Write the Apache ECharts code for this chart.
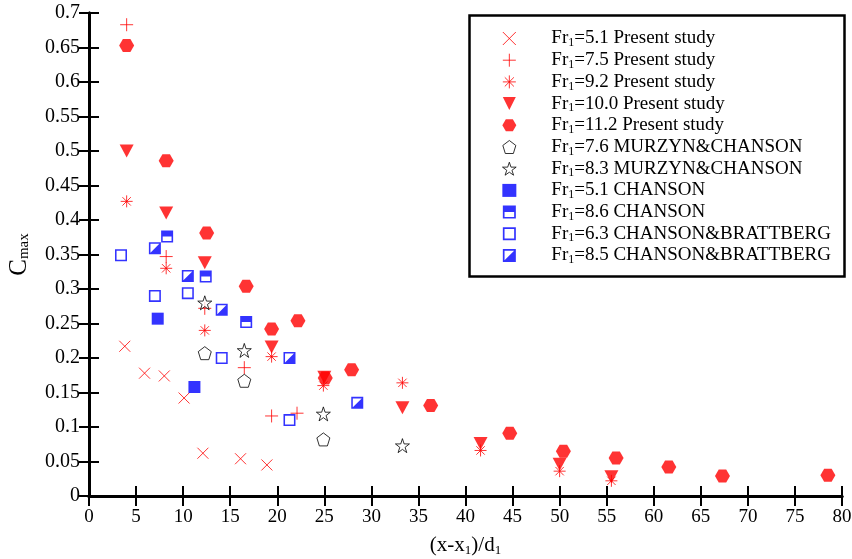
<!DOCTYPE html>
<html>
<head>
<meta charset="utf-8">
<script src="https://cdn.jsdelivr.net/npm/echarts@6/dist/echarts.min.js"></script>
<style>
  html, body { margin: 0; padding: 0; background: #fff; }
  #chart { width: 852px; height: 559px; }
</style>
</head>
<body>
<div id="chart"></div>
<script>
// axis ticks
const xMin = 0, xMax = 80, xStep = 5;
const yMin = 0, yMax = 0.7, yStep = 0.05;

// Present study
const p51X = [3.8, 5.9, 8.0, 10.1, 12.1, 16.1, 18.9];
const p51Y = [0.217, 0.178, 0.174, 0.142, 0.062, 0.054, 0.045];
const p75X = [4.0, 8.2, 12.3, 16.5, 19.4, 22.1];
const p75Y = [0.683, 0.347, 0.272, 0.186, 0.116, 0.12];
const p92X = [4.0, 8.2, 12.3, 19.4, 24.9, 33.3, 41.6, 50.0, 55.5];
const p92Y = [0.427, 0.33, 0.24, 0.202, 0.16, 0.164, 0.066, 0.036, 0.022];
const p100X = [4.0, 8.2, 12.3, 19.4, 25.0, 33.3, 41.6, 50.0, 55.5];
const p100Y = [0.5, 0.41, 0.338, 0.216, 0.172, 0.128, 0.076, 0.046, 0.028];
const p112X = [4.0, 8.2, 12.5, 16.7, 19.4, 22.2, 25.1, 27.9, 36.3, 44.7, 50.4, 56.0, 61.6, 67.3, 78.5];
const p112Y = [0.653, 0.486, 0.381, 0.304, 0.242, 0.254, 0.171, 0.183, 0.131, 0.091, 0.065, 0.055, 0.042, 0.029, 0.030];
// MURZYN & CHANSON
const m76X = [12.3, 16.5, 24.9];
const m76Y = [0.207, 0.167, 0.082];
const m83X = [12.3, 16.5, 24.9, 33.3];
const m83Y = [0.28, 0.211, 0.119, 0.073];
// CHANSON
const c51X = [7.3, 11.2];
const c51Y = [0.257, 0.158];
const c86X = [8.3, 12.4, 16.7];
const c86Y = [0.376, 0.318, 0.252];
// CHANSON & BRATTBERG
const b63X = [3.4, 7.0, 10.5, 14.1, 21.3];
const b63Y = [0.349, 0.29, 0.294, 0.2, 0.11];
const b85X = [7.0, 10.5, 14.1, 21.3, 28.5];
const b85Y = [0.359, 0.319, 0.27, 0.2, 0.135];

const names = [
  'Fr1=5.1 Present study', 'Fr1=7.5 Present study', 'Fr1=9.2 Present study',
  'Fr1=10.0 Present study', 'Fr1=11.2 Present study',
  'Fr1=7.6 MURZYN&CHANSON', 'Fr1=8.3 MURZYN&CHANSON',
  'Fr1=5.1 CHANSON', 'Fr1=8.6 CHANSON',
  'Fr1=6.3 CHANSON&BRATTBERG', 'Fr1=8.5 CHANSON&BRATTBERG'
];

const RED = '#ff0000', BLUE = '#0000ff', BLACK = '#000';
const ring = 'M0,0L10,0L10,10L0,10Z M1.3,1.3L1.3,8.7L8.7,8.7L8.7,1.3Z';
const sym = {
  cross: 'path://M0,0L10,10M10,0L0,10',
  plus: 'path://M5,0L5,10M0,5L10,5',
  star6: 'path://M5,0L5,10M0,5L10,5M1.5,1.5L8.5,8.5M8.5,1.5L1.5,8.5',
  tri: 'path://M0,0L10,0L5,10Z',
  hex: 'path://M0,5L2.5,0.67L7.5,0.67L10,5L7.5,9.33L2.5,9.33Z',
  penta: 'path://M5,0L10,3.8L8.1,10L1.9,10L0,3.8Z',
  star: 'path://M5,0L6.2,3.6L10,3.6L6.9,5.9L8.1,9.5L5,7.3L1.9,9.5L3.1,5.9L0,3.6L3.8,3.6Z',
  open: 'path://' + ring,
  halfTop: 'path://' + ring + ' M1.3,1.3L8.7,1.3L8.7,5L1.3,5Z',
  halfDiag: 'path://' + ring + ' M8.7,1.3L8.7,8.7L1.3,8.7Z'
};

function pts(xs, ys) { return xs.map((x, i) => [x, ys[i]]); }

function ser(i, xs, ys, symbol, size, itemStyle) {
  return {
    name: names[i], type: 'scatter', data: pts(xs, ys),
    symbol: symbol, symbolSize: size, itemStyle: itemStyle
  };
}

const lineStyle = c => ({ color: c, borderColor: c, borderWidth: 1 });
const fillStyle = c => ({ color: c, borderWidth: 0 });
const hollow = c => ({ color: '#fff', borderColor: c, borderWidth: 1 });

const series = [
  ser(0, p51X, p51Y, sym.cross, 11, lineStyle(RED)),
  ser(1, p75X, p75Y, sym.plus, 13, lineStyle(RED)),
  ser(2, p92X, p92Y, sym.star6, 12, lineStyle(RED)),
  ser(3, p100X, p100Y, sym.tri, [14, 13], fillStyle(RED)),
  ser(4, p112X, p112Y, sym.hex, [15, 13], fillStyle(RED)),
  ser(5, m76X, m76Y, sym.penta, 13, hollow(BLACK)),
  ser(6, m83X, m83Y, sym.star, 14, hollow(BLACK)),
  ser(7, c51X, c51Y, 'rect', 12, fillStyle(BLUE)),
  ser(8, c86X, c86Y, sym.halfTop, 12, fillStyle(BLUE)),
  ser(9, b63X, b63Y, sym.open, 12, fillStyle(BLUE)),
  ser(10, b85X, b85Y, sym.halfDiag, 12, fillStyle(BLUE))
];

const serif = 'Liberation Serif';
const tickStyle = { show: true, inside: true, length: 10, lineStyle: { color: BLACK, width: 2 } };
const axisLine = { show: true, lineStyle: { color: BLACK, width: 3 } };

const chart = echarts.init(document.getElementById('chart'));
chart.setOption({
  backgroundColor: '#fff',
  animation: false,
  grid: { left: 89, right: 10, top: 13, bottom: 63, containLabel: false, outerBoundsMode: 'none' },
  xAxis: [
    {
      type: 'value', min: xMin, max: xMax, interval: xStep,
      axisLine: axisLine, axisTick: tickStyle, splitLine: { show: false },
      axisLabel: { color: BLACK, fontFamily: serif, fontSize: 19, margin: 12 },
      name: '{a|(x-x}{s|1}{a|)/d}{s|1}', nameLocation: 'middle', nameGap: 37,
      nameTextStyle: {
        rich: {
          a: { fontFamily: serif, fontSize: 21, color: BLACK, lineHeight: 24 },
          s: { fontFamily: serif, fontSize: 13, color: BLACK, lineHeight: 13, verticalAlign: 'bottom' }
        }
      }
    },
    {
      type: 'value', position: 'top', min: xMin, max: xMax, interval: xStep,
      axisLine: axisLine, axisTick: tickStyle, axisLabel: { show: false }, splitLine: { show: false }
    }
  ],
  yAxis: [
    {
      type: 'value', min: yMin, max: yMax, interval: yStep,
      axisLine: axisLine, axisTick: tickStyle, splitLine: { show: false },
      axisLabel: { color: BLACK, fontFamily: serif, fontSize: 20, margin: 9 },
      name: '{a|C}{s|max}', nameLocation: 'middle', nameGap: 57, nameRotate: 90,
      nameTextStyle: {
        rich: {
          a: { fontFamily: serif, fontSize: 25, color: BLACK, lineHeight: 26 },
          s: { fontFamily: serif, fontSize: 15, color: BLACK, lineHeight: 14, verticalAlign: 'bottom' }
        }
      }
    },
    {
      type: 'value', position: 'right', min: yMin, max: yMax, interval: yStep,
      axisLine: axisLine, axisTick: tickStyle, axisLabel: { show: false }, splitLine: { show: false }
    }
  ],
  legend: {
    orient: 'vertical', left: 502, top: 29, padding: 0,
    itemWidth: 14, itemHeight: 13, itemGap: 1.7,
    selectedMode: false,
    data: names,
    itemStyle: { borderWidth: 1 },
    formatter: n => '{g|}{t|Fr}{s|1}{t|' + n.slice(3) + '}',
    textStyle: {
      rich: {
        g: { width: 30, lineHeight: 21 },
        t: { fontFamily: serif, fontSize: 19, color: BLACK, lineHeight: 21 },
        s: { fontFamily: serif, fontSize: 12, color: BLACK, lineHeight: 12, verticalAlign: 'bottom' }
      }
    }
  },
  graphic: [
    {
      type: 'rect', left: 467, top: 13, z: -1,
      shape: { width: 375, height: 261 },
      style: { fill: 'none', stroke: BLACK, lineWidth: 2.5 }
    }
  ],
  series: series
});
</script>
</body>
</html>
